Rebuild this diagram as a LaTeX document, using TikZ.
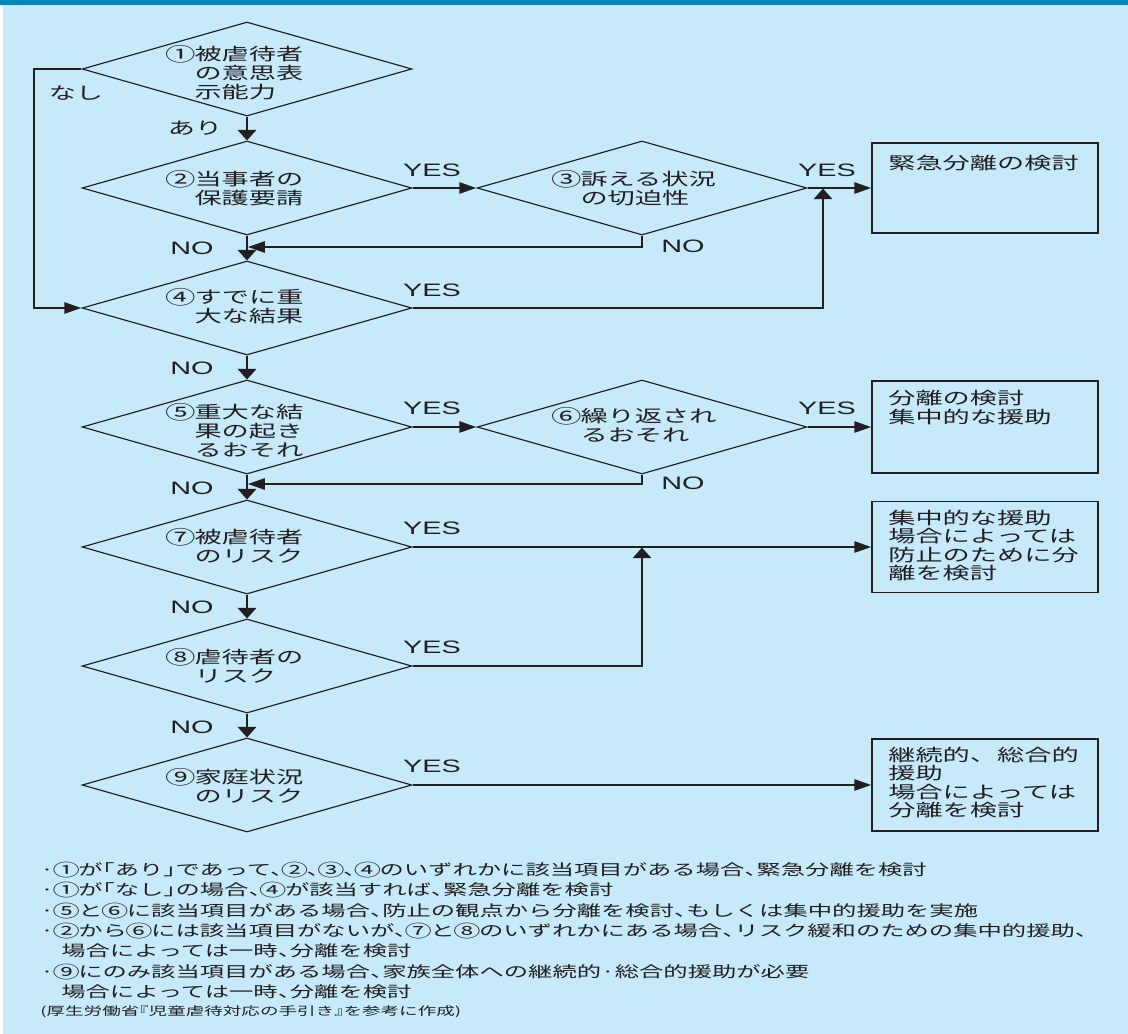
\documentclass[tikz,border=0pt]{standalone}
\usepackage{fontspec}
\setmainfont{Noto Sans CJK JP}
\newfontfamily\latf{Liberation Sans}
\newfontfamily\notef[RawFeature=+halt]{Noto Sans CJK JP}
\usetikzlibrary{shapes.geometric,arrows.meta}
\definecolor{bgblue}{RGB}{198,234,249}
\definecolor{barblue}{RGB}{0,134,186}
\definecolor{ink}{RGB}{35,31,32}
\newcommand\cnum[1]{\makebox[1em][c]{\raisebox{-0.06em}{\scalebox{1.12}{#1}}}}
\newcommand\ind{\hspace*{1em}}
\tikzset{
  conn/.style={draw=ink, line width=1.1pt},
  arr/.style={conn, -{Triangle[length=10.5pt,width=11.5pt]}},
  dia/.style={shape=diamond, draw=ink, line width=1.1pt, minimum width=206.25pt, minimum height=94pt, inner sep=0pt},
  rbox/.style={shape=rectangle, draw=ink, line width=1.1pt, minimum width=141.25pt, inner sep=0pt},
  dtext/.style={anchor=west, align=left, inner sep=0pt, text=ink, font=\fontsize{17}{19}\selectfont},
  btext/.style={anchor=west, align=left, inner sep=0pt, text=ink, font=\fontsize{17}{18.4}\selectfont},
  lab/.style={inner sep=0pt, text=ink, font=\latf\fontsize{18}{20}\selectfont},
  jlab/.style={inner sep=0pt, text=ink, font=\fontsize{17}{19}\selectfont},
  note/.style={anchor=west, inner sep=0pt, text=ink, font=\notef\fontsize{15.2}{16}\selectfont},
  src/.style={anchor=west, inner sep=0pt, text=ink, font=\notef\fontsize{11.6}{13}\selectfont},
}
\begin{document}
\begin{tikzpicture}[x=1pt,y=-1pt]
\useasboundingbox (0,0) rectangle (1128,1034);
\fill[bgblue] (0,0) rectangle (1128,1034);
\fill[barblue] (0,0) rectangle (1128,5);
\fill[white] (0,5) rectangle (3,1034);
\begin{scope}[x=0.625pt,y=-1pt,transform canvas={xscale=1.6}]
% diamonds
\node[dia] (d1) at (247,69) {};
\node[dia] (d2) at (247,188) {};
\node[dia] (d3) at (642,188) {};
\node[dia] (d4) at (247,308) {};
\node[dia] (d5) at (247,427) {};
\node[dia] (d6) at (642,427) {};
\node[dia] (d7) at (247,547) {};
\node[dia] (d8) at (247,666) {};
\node[dia] (d9) at (247,785) {};
% boxes
\node[rbox, minimum height=90pt] (b1) at (985,188) {};
\node[rbox, minimum height=92pt] (b2) at (985,427) {};
\node[rbox, minimum height=91pt] (b3) at (985,547) {};
\node[rbox, minimum height=92pt] (b4) at (985,785) {};
% diamond texts
\node[dtext] (t1) at (167,73) {\cnum{①}被虐待者\\\ind の意思表\\\ind 示能力};
\node[dtext] (t2) at (167,188) {\cnum{②}当事者の\\\ind 保護要請};
\node[dtext] (t3) at (553,188) {\cnum{③}訴える状況\\\ind の切迫性};
\node[dtext] (t4) at (167,306) {\cnum{④}すでに重\\\ind 大な結果};
\node[dtext] (t5) at (167,430) {\cnum{⑤}重大な結\\\ind 果の起き\\\ind るおそれ};
\node[dtext] (t6) at (553,425) {\cnum{⑥}繰り返され\\\ind るおそれ};
\node[dtext] (t7) at (167,546) {\cnum{⑦}被虐待者\\\ind のリスク};
\node[dtext] (t8) at (167,666) {\cnum{⑧}虐待者の\\\ind リスク};
\node[dtext] (t9) at (167,785.5) {\cnum{⑨}家庭状況\\\ind のリスク};
% box texts
\node[btext] (bt1) at (888,163) {緊急分離の検討};
\node[btext] (bt2) at (888,407.5) {分離の検討\\集中的な援助};
\node[btext] (bt3) at (888,545.5) {集中的な援助\\場合によっては\\防止のために分\\離を検討};
\node[btext] (bt4) at (888,782.5) {継続的、総合的\\援助\\場合によっては\\分離を検討};
% connectors
\coordinate (loopx) at (34,188);
\coordinate (j1) at (248,247);
\coordinate (j2) at (823,188.6);
\coordinate (j3) at (248,484);
\coordinate (j4) at (642,547.6);
\draw[arr] (d1.south) -- (d2.north);
\draw[arr] (d2.east) -- (d3.west);
\draw[arr] (d3.east) -- (b1.west);
\draw[arr] (d2.south) -- (d4.north);
\draw[arr] (d3.south) |- (j1);
\draw[arr] (d1.west) -| (loopx) |- (d4.west);
\draw[arr] (d4.east) -| (j2);
\draw[arr] (d4.south) -- (d5.north);
\draw[arr] (d5.east) -- (d6.west);
\draw[arr] (d6.east) -- (b2.west);
\draw[arr] (d6.south) |- (j3);
\draw[arr] (d5.south) -- (d7.north);
\draw[arr] (d7.east) -- (b3.west);
\draw[arr] (d8.east) -| (j4);
\draw[arr] (d7.south) -- (d8.north);
\draw[arr] (d8.south) -- (d9.north);
\draw[arr] (d9.east) -- (b4.west);
% labels
\node[jlab] (lnashi) at (76,93) {なし};
\node[jlab] (lari) at (195,128) {あり};
\node[lab] (y2) at (432,170) {YES};
\node[lab] (y3) at (827,170) {YES};
\node[lab] (y4) at (432,290) {YES};
\node[lab] (y5) at (432,408) {YES};
\node[lab] (y6) at (827,408) {YES};
\node[lab] (y7) at (432,528) {YES};
\node[lab] (y8) at (432,647) {YES};
\node[lab] (y9) at (432,766) {YES};
\node[lab] (n2) at (192,248) {NO};
\node[lab] (n3) at (683,246) {NO};
\node[lab] (n4) at (192,368) {NO};
\node[lab] (n5) at (192,488) {NO};
\node[lab] (n6) at (683,483) {NO};
\node[lab] (n7) at (192,607) {NO};
\node[lab] (n8) at (192,727) {NO};
% notes
\node[note] (m1) at (40,870) {·\cnum{①}が「あり」であって、\cnum{②}、\cnum{③}、\cnum{④}のいずれかに該当項目がある場合、緊急分離を検討};
\node[note] (m2) at (40,890) {·\cnum{①}が「なし」の場合、\cnum{④}が該当すれば、緊急分離を検討};
\node[note] (m3) at (40,911) {·\cnum{⑤}と\cnum{⑥}に該当項目がある場合、防止の観点から分離を検討、もしくは集中的援助を実施};
\node[note] (m4) at (40,931) {·\cnum{②}から\cnum{⑥}には該当項目がないが、\cnum{⑦}と\cnum{⑧}のいずれかにある場合、リスク緩和のための集中的援助、};
\node[note] (m5) at (61,951) {場合によっては一時、分離を検討};
\node[note] (m6) at (40,972) {·\cnum{⑨}にのみ該当項目がある場合、家族全体への継続的·総合的援助が必要};
\node[note] (m7) at (61,992) {場合によっては一時、分離を検討};
\node[src] (m8) at (40,1012) {(厚生労働省『児童虐待対応の手引き』を参考に作成)};
\end{scope}
\end{tikzpicture}
\end{document}
